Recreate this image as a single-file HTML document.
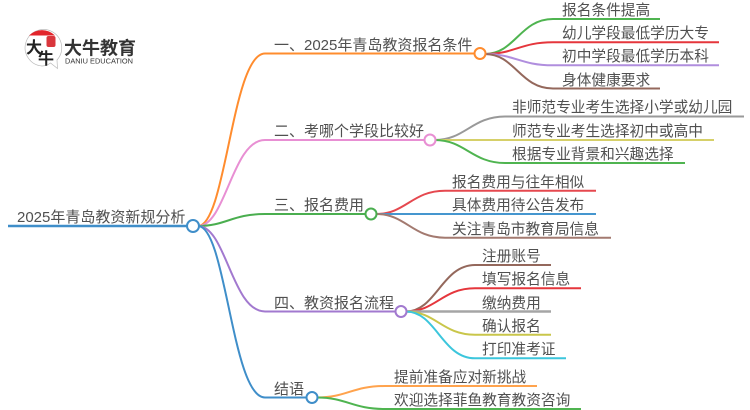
<!DOCTYPE html>
<html><head><meta charset="utf-8">
<style>
html,body{margin:0;padding:0;background:#fff;width:750px;height:410px;overflow:hidden}
svg{display:block;filter:blur(.3px)}
text{font-family:"Liberation Sans","Noto Sans CJK SC",sans-serif;fill:#505050;font-size:14.7px}
text.b{font-size:15px}
path{fill:none;stroke-width:2}
circle{fill:#fff;stroke-width:2}
</style></head><body>
<svg width="750" height="410" viewBox="0 0 750 410" xmlns="http://www.w3.org/2000/svg">
<!-- logo -->
<path d="M50.500,63 C47,66 42,66 42,66 A18.300,18.300 0 1 1 57,60 L57.500,68.500 Z" style="stroke:#bbb;stroke-width:.7;fill:#fff"/>
<path d="M29,35.500 A18.300,18.300 0 0 1 55,35.500 Z" style="fill:#e2252b;stroke:none"/>
<rect x="46.500" y="36" width="9" height="11" rx="2" fill="#d9363c"/>
<text x="26" y="53" style="font-family:'Noto Sans CJK SC',sans-serif;font-size:16px;font-weight:bold;fill:#222">大</text>
<text x="38" y="64" style="font-family:'Noto Sans CJK SC',sans-serif;font-size:16px;font-weight:bold;fill:#222">牛</text>
<text x="64" y="54.500" style="font-size:18px;font-weight:bold;fill:#333">大牛教育</text>
<text x="65" y="63.500" style="font-size:7.500px;fill:#333" textLength="68" lengthAdjust="spacingAndGlyphs">DANIU EDUCATION</text>

<!-- main branches -->
<g>
<path d="M198,226 C226,226 232,53.500 265,53.500 L480,53.500" stroke="#ff8c2e"/>
<path d="M198,226 C226,226 232,140 265,140 L430,140" stroke="#e88fd3"/>
<path d="M198,226 C226,226 232,214 265,214 L371,214" stroke="#4aae4f"/>
<path d="M198,226 C226,226 232,311.500 265,311.500 L401,311.500" stroke="#a279cf"/>
<path d="M198,226 C226,226 232,397.500 265,397.500 L312,397.500" stroke="#3f8ec9"/>
<path d="M8,226 L193,226" stroke="#3f8ec9" style="stroke-width:2.500"/>
</g>

<!-- leaves 1 -->
<path d="M485,54 C515,54 520,19 553,19 L660,19" stroke="#4fb450"/>
<path d="M485,54 C515,54 520,42.300 553,42.300 L719,42.300" stroke="#e5363c"/>
<path d="M485,54 C515,54 520,65.300 553,65.300 L719,65.300" stroke="#b08ede"/>
<path d="M485,54 C515,54 520,88.500 553,88.500 L660,88.500" stroke="#94685c"/>
<!-- leaves 2 -->
<path d="M435,140 C465,140 472,116.500 505,116.500 L744,116.500" stroke="#999"/>
<path d="M435,140 C465,140 472,140 505,140 L714,140" stroke="#d6d069"/>
<path d="M435,140 C465,140 472,163 505,163 L685,163" stroke="#4fb450"/>
<!-- leaves 3 -->
<path d="M376,214 C406,214 412,190.700 445,190.700 L596,190.700" stroke="#e5484f"/>
<path d="M376,214 L596,214" stroke="#4596cf"/>
<path d="M376,214 C406,214 412,237.700 445,237.700 L611,237.700" stroke="#a37a70"/>
<!-- leaves 4 -->
<path d="M406,311.500 C436,311.500 442,265 475,265 L551,265" stroke="#94685c"/>
<path d="M406,311.500 C436,311.500 442,288.300 475,288.300 L581,288.300" stroke="#e5363c"/>
<path d="M406,311.500 L551,311.500" stroke="#a5a5a5" style="stroke-width:2.500"/>
<path d="M406,311.500 C436,311.500 442,334.700 475,334.700 L551,334.700" stroke="#c9c64a"/>
<path d="M406,311.500 C436,311.500 442,358.300 475,358.300 L566,358.300" stroke="#3cc6dc"/>
<!-- leaves 5 -->
<path d="M317,397.500 C347,397.500 352,386 385,386 L537,386" stroke="#ffa34d"/>
<path d="M317,397.500 C347,397.500 352,409 385,409 L581,409" stroke="#4fb450"/>

<!-- nodes -->
<circle cx="193" cy="226" r="6" stroke="#3f8ec9"/>
<circle cx="480" cy="53.500" r="5.500" stroke="#ff8c2e"/>
<circle cx="430" cy="140" r="5.500" stroke="#e88fd3"/>
<circle cx="371" cy="214" r="5.500" stroke="#4aae4f"/>
<circle cx="401" cy="311.500" r="5.500" stroke="#a279cf"/>
<circle cx="312" cy="397.500" r="5.500" stroke="#3f8ec9"/>

<!-- labels -->
<text class="b" x="17" y="222">2025年青岛教资新规分析</text>
<text class="b" x="274" y="50">一、2025年青岛教资报名条件</text>
<text class="b" x="274" y="136">二、考哪个学段比较好</text>
<text class="b" x="274" y="210">三、报名费用</text>
<text class="b" x="274" y="308">四、教资报名流程</text>
<text class="b" x="274" y="394">结语</text>

<text x="562" y="15">报名条件提高</text>
<text x="562" y="38">幼儿学段最低学历大专</text>
<text x="562" y="61">初中学段最低学历本科</text>
<text x="562" y="85">身体健康要求</text>

<text x="512" y="112">非师范专业考生选择小学或幼儿园</text>
<text x="512" y="136">师范专业考生选择初中或高中</text>
<text x="512" y="159">根据专业背景和兴趣选择</text>

<text x="452" y="187">报名费用与往年相似</text>
<text x="452" y="210">具体费用待公告发布</text>
<text x="452" y="234">关注青岛市教育局信息</text>

<text x="482" y="261">注册账号</text>
<text x="482" y="284">填写报名信息</text>
<text x="482" y="308">缴纳费用</text>
<text x="482" y="331">确认报名</text>
<text x="482" y="354">打印准考证</text>

<text x="394" y="382">提前准备应对新挑战</text>
<text x="394" y="405">欢迎选择菲鱼教育教资咨询</text>
</svg>
</body></html>
